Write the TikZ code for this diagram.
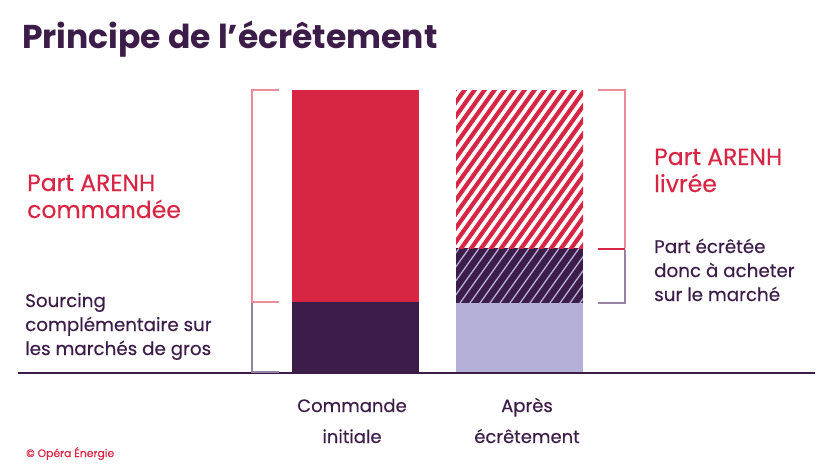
\documentclass[tikz,border=0pt]{standalone}
\usepackage{fontspec}
\setmainfont{Poppins}
\newfontfamily\medfont{Poppins}[FakeBold=0.35]
\usetikzlibrary{positioning}

\definecolor{arenhred}{RGB}{215,38,68}
\definecolor{darkplum}{RGB}{60,28,72}
\definecolor{lavender}{RGB}{181,176,216}
\definecolor{pinkline}{RGB}{234,140,156}
\definecolor{plumline}{RGB}{150,130,165}

\begin{document}
\begin{tikzpicture}[
  x=1pt, y=-1pt,
  title/.style={anchor=base west, inner sep=0pt, text=darkplum, font=\fontsize{33}{38}\selectfont\bfseries},
  redlabel/.style={anchor=base west, inner sep=0pt, align=left, text=arenhred, font=\fontsize{23.5}{27}\selectfont\medfont},
  plumlabel/.style={anchor=base west, inner sep=0pt, align=left, text=darkplum, font=\fontsize{18.3}{24}\selectfont\medfont},
  barlabel/.style={anchor=base, inner sep=0pt, align=center, text=darkplum, font=\fontsize{18}{31}\selectfont\medfont},
  brace/.style={line width=1.2pt}
]
\useasboundingbox (0,0) rectangle (820,475);

% titre
\node (title) [title] at (22,48) {Principe de l’écrêtement};

% barre 1 : commande initiale
\fill[arenhred] (292,90) rectangle (419,302);
\fill[darkplum] (292,302) rectangle (419,373);

% barre 2 : apres ecretement
\fill[lavender] (456,303) rectangle (583,373);
\fill[darkplum] (456,248) rectangle (583,303);
\begin{scope}
  \clip (456,248) rectangle (583,303);
  \foreach \i in {-2,...,18}
    \draw[lavender, line width=1.3pt] (440+\i*10,303) -- ++(40,-56);
\end{scope}
\begin{scope}
  \clip (456,90) rectangle (583,248);
  \foreach \i in {-12,...,14}
    \draw[arenhred, line width=4.2pt] (440+\i*10,250) -- ++(116,-162);
\end{scope}

% axe
\draw[darkplum, line width=1.2pt] (18,373) -- (815,373);

% accolades gauches
\draw[brace, pinkline] (279,90) -- (252,90) -- (252,302) -- (279,302);
\draw[brace, plumline] (252,303) -- (252,372) -- (279,372);

% accolades droites
\draw[brace, pinkline] (598,90) -- (625,90) -- (625,248);
\draw[brace, arenhred] (598,249) -- (625,249);
\draw[brace, plumline] (625,250) -- (625,303) -- (598,303);

% textes (base = derniere ligne)
\node (arenhcmd) [redlabel] at (27,218) {Part ARENH\\commandée};
\node (sourcing) [plumlabel] at (25,355) {Sourcing\\complémentaire sur\\les marchés de gros};
\node (arenhliv) [redlabel] at (654,192) {Part ARENH\\livrée};
\node (ecretee) [plumlabel] at (654,301) {Part écrêtée\\donc à acheter\\sur le marché};
\node (initiale) [barlabel] at (352,443) {Commande\\initiale};
\node (apres) [barlabel] at (527,443) {Après\\écrêtement};
\node (copy) [anchor=base west, inner sep=0pt, text=arenhred, font=\fontsize{10.8}{12}\selectfont\medfont] at (26,457) {© Opéra Énergie};

\end{tikzpicture}
\end{document}
